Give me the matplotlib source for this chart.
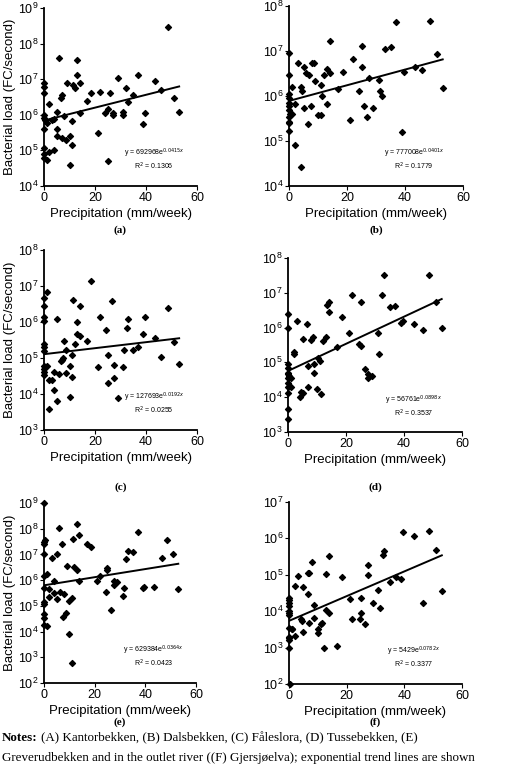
import matplotlib
matplotlib.use("Agg")
import matplotlib.pyplot as plt
import numpy as np

# precipitation (mm/week) and bacterial load (FC/second) per stream
a_x = [0, 0, 0, 0, 0, 0, 0, 0, 0, 0.5, 1, 1, 2, 2, 3, 4, 4, 5, 5, 5, 6, 6.5, 7, 7, 8, 8.5, 9, 10, 10, 11, 11,
       11.5, 12, 13, 13, 14, 14, 17, 18.5, 21, 22, 24, 25, 25, 26, 27, 27, 29, 31, 31, 32, 33, 35, 37, 39, 39.5,
       43.5, 46, 48.5, 51, 53]
a_y = [8e6, 6e6, 4e6, 1e6, 8e5, 4e5, 1.2e5, 8e4, 6e4, 7e5, 6e5, 5.5e4, 2e6, 9e4, 7e5, 7.5e5, 1e5, 1.2e6, 4e5,
       2.5e5, 4e7, 3e6, 3.5e6, 2.2e5, 9e5, 2e5, 8e6, 2.5e5, 4e4, 1.4e5, 6.5e5, 7e6, 5.5e6, 3.5e7, 1.3e7, 8e6,
       1.1e6, 2.5e6, 4e6, 3e5, 4.5e6, 1.1e6, 5e4, 1.5e6, 4e6, 1.1e6, 1e6, 1.1e7, 1e6, 1.2e6, 5.5e6, 2.3e6,
       3.5e6, 1.3e7, 5.5e5, 1.1e6, 9e6, 5e6, 3e8, 3e6, 1.2e6]
b_x = [0, 0, 0, 0, 0, 0, 0, 0, 0, 0, 0, 0.5, 1, 1, 2, 2, 3, 4, 4, 4.5, 5, 5, 6, 6.5, 7, 7.5, 8, 8.5, 9, 10,
       11, 11, 11.5, 12, 13, 13, 14, 14, 17, 18.5, 21, 22, 24, 25, 25, 26, 27, 27.5, 29, 31, 31.5, 32, 33, 35,
       37, 39, 39.5, 43.5, 46, 48.5, 51, 53]
b_y = [9e6, 3e6, 1.1e6, 9e5, 7e5, 6e5, 5e5, 3.5e5, 2.7e5, 2.5e5, 1.7e5, 4e5, 1.6e6, 4e5, 6.5e5, 8e4, 5.5e6,
       1.6e6, 2.7e4, 1.3e6, 4.5e6, 5.5e5, 3.3e6, 2.4e5, 3e6, 6e5, 5.5e6, 5.5e6, 2.2e6, 3.8e5, 1.8e6, 3.8e5,
       1e6, 3e6, 4e6, 6.5e5, 1.7e7, 3.3e6, 1.4e6, 3.5e6, 3e5, 6.5e6, 1.3e6, 1.3e7, 4.5e6, 6e5, 3.4e5, 2.5e6,
       5.5e5, 2.3e6, 1.3e6, 1e6, 1.1e7, 1.2e7, 4.5e7, 1.6e5, 3.5e6, 4.5e6, 3.7e6, 4.7e7, 8.5e6, 1.5e6]
c_x = [0, 0, 0, 0, 0, 0, 0, 0, 0, 0, 0, 0.5, 1, 1, 2, 2, 3, 4, 4, 5, 5, 6, 6.5, 7, 7.5, 8, 8.5, 8.5, 10, 10,
       11, 11, 11.5, 12, 13, 13, 14, 14, 17, 18.5, 21, 22, 24.5, 25, 25, 26.5, 27.5, 27.5, 29, 31, 31.5, 32.5,
       33, 35, 37, 39, 39.5, 43.5, 46, 48.5, 51, 53]
c_y = [4.5e6, 2.8e6, 1.4e6, 1.1e6, 2.4e5, 2e5, 1.6e5, 6e4, 5e4, 4e4, 3.3e4, 5.5e4, 7e6, 6e4, 2.5e4, 3.8e3,
       2.5e4, 1.3e4, 4e4, 1.2e6, 6.5e3, 3.5e4, 8e4, 9e4, 1e5, 3e5, 3.8e4, 1.7e5, 8e3, 6e4, 3e4, 1.2e5, 4e6,
       2.5e5, 1e6, 4.5e5, 2.8e6, 4e5, 3e5, 1.4e7, 5.5e4, 1.4e6, 6e5, 1.2e5, 2e4, 3.8e6, 2.8e4, 6.5e4, 7.5e3,
       5.5e4, 1.7e5, 7e5, 1.2e6, 1.7e5, 2e5, 4.5e5, 1.4e6, 3.5e5, 1.1e5, 2.4e6, 2.8e5, 7e4]
d_x = [0, 0, 0, 0, 0, 0, 0, 0, 0, 0, 0, 0, 0.5, 1, 1, 2, 2, 3, 4, 4.5, 5, 5, 6.5, 7, 7, 8, 8.5, 9, 9, 10,
       10.5, 11, 11.5, 12, 13, 13.5, 14, 14, 17, 18.5, 21, 22, 24.5, 25, 25, 26.5, 27.5, 27.5, 29, 31, 31.5,
       32.5, 33, 35, 37, 39, 39.5, 43.5, 46.5, 48.5, 51, 53]
d_y = [2.4e6, 1e6, 9e4, 7e4, 5e4, 4.5e4, 3.5e4, 2.5e4, 2e4, 1.3e4, 4.5e3, 2.3e3, 4e4, 3.5e4, 2e4, 2e5, 1.7e5,
       1.5e6, 1e4, 1.4e4, 4.8e5, 1.3e4, 1.3e6, 8e4, 2e4, 4.5e5, 5.5e5, 9e4, 5e4, 1.7e4, 1.3e5, 1.1e5, 1.2e4,
       4.2e5, 5.5e5, 4.5e6, 5.5e6, 2.9e6, 2.7e5, 2e6, 6.8e5, 8.5e6, 3.3e5, 5.5e6, 3e5, 6.5e4, 3.5e4, 4.5e4,
       4.2e4, 6.8e5, 1.7e5, 8.5e6, 3.2e7, 4e6, 4.3e6, 1.4e6, 1.5e6, 1.3e6, 8.5e5, 3.2e7, 5.5e6, 1e6]
e_x = [0, 0, 0, 0, 0, 0, 0, 0, 0, 0, 0, 0.5, 1, 1, 2, 2, 3, 4, 4, 5, 5, 6, 6.5, 7, 7.5, 8, 8.5, 9, 10, 10,
       11, 11, 11.5, 12, 13, 13, 14, 14, 17, 18.5, 21, 22, 24.5, 25, 25, 26.5, 27.5, 27.5, 29, 31, 31.5, 32.5,
       33, 35, 37, 39, 39.5, 43.5, 46.5, 48.5, 51, 53]
e_y = [1e9, 3e7, 2.5e7, 1e7, 1.5e6, 5e5, 1.4e5, 1.2e5, 5e4, 3.5e4, 1.8e4, 3.5e7, 1.8e6, 1.6e4, 4.5e5, 2.3e5,
       7e6, 9e5, 3.2e5, 1e7, 1.8e5, 1.1e8, 3.5e5, 2.5e7, 3.8e4, 3e5, 5.5e4, 3.5e6, 8e3, 1.5e5, 2e5, 600,
       4e7, 3.2e6, 2.5e6, 1.5e8, 5.5e7, 9e5, 2.5e7, 2e7, 9.5e5, 1.5e6, 3.5e5, 2.5e6, 3e6, 7e4, 6.5e5, 9.5e5,
       8.5e5, 2.5e5, 5e5, 6.5e6, 1.3e7, 1.2e7, 7.5e7, 5e5, 5.5e5, 5.5e5, 7e6, 3.5e7, 1e7, 4.5e5]
f_x = [0, 0, 0, 0, 0, 0, 0, 0, 0, 0, 0, 0, 0.5, 1, 1, 2, 2, 3, 4, 4.5, 5, 5, 6.5, 6.5, 7, 7, 8, 8.5, 8.5,
       10, 10, 11, 11.5, 12, 13, 13, 14, 14, 16.5, 18.5, 21, 22, 24.5, 25, 25, 26.5, 27.5, 27.5, 29, 31, 31.5,
       32.5, 33, 35, 37, 39, 39.5, 43.5, 46.5, 48.5, 51, 53]
f_y = [2.3e4, 2e4, 1.7e4, 1.4e4, 1e4, 9e3, 8e3, 3.5e3, 2e3, 1.8e3, 1.6e3, 1e3, 100, 3.3e3, 3.3e3, 5e4,
       2.1e3, 9e4, 6e3, 5.5e3, 4.5e4, 2.6e3, 1.1e5, 2.9e4, 1.1e5, 4.8e3, 2.2e5, 6.5e3, 1.5e4, 3.3e3, 2.5e3,
       4.5e3, 4.8e3, 1e3, 1.05e5, 1.1e4, 9e3, 3.2e5, 1.1e3, 8.5e4, 2.2e4, 6e3, 6e3, 2.3e4, 9e3,
       4.5e3, 1.9e5, 1e5, 1.7e4, 3.8e4, 1.2e4, 3.6e5, 4.5e5, 6.5e4, 8.5e4, 7.5e4, 1.5e6, 1.2e6, 1.7e4, 1.6e6,
       4.8e5, 3.7e4]

# fitted exponential trend  y = A e^(k x)
fit_a = [692968, 777008, 127693, 56761, 629384, 5429]
fit_k = [0.0415, 0.0401, 0.0192, 0.0898, 0.0364, 0.0782]
r2 = ["0.1306", "0.1779", "0.0255", "0.3537", "0.0423", "0.3377"]
ylims = [(4, 9), (4, 8), (3, 8), (3, 8), (2, 9), (2, 7)]
letters = ["(a)", "(b)", "(c)", "(d)", "(e)", "(f)"]

xs = [a_x, b_x, c_x, d_x, e_x, f_x]
ys = [a_y, b_y, c_y, d_y, e_y, f_y]

W, H = 520, 777
# axes boxes in pixels: left, top, right, bottom
boxes = [(44, 8, 197, 186), (289, 6, 463, 186),
         (44, 250, 197, 430), (288, 258, 462, 432),
         (44, 503, 196, 683), (289, 502, 462, 684)]
label_y = [230, 230, 487, 487, 722, 722]

plt.rcParams["font.family"] = ["Liberation Sans", "DejaVu Sans"]
fig = plt.figure(figsize=(W / 100, H / 100), dpi=100)

for i in range(6):
    l, t, r, b = boxes[i]
    ax = fig.add_axes([l / W, 1 - b / H, (r - l) / W, (b - t) / H])
    n = min(len(xs[i]), len(ys[i]))
    ax.scatter(xs[i][:n], ys[i][:n], marker="D", s=9, color="black", clip_on=False, zorder=3)
    xx = np.linspace(0, 53, 50)
    ax.plot(xx, fit_a[i] * np.exp(fit_k[i] * xx), color="black", lw=1.4)
    ax.set_yscale("log")
    lo, hi = ylims[i]
    ax.set_ylim(10.0 ** lo, 10.0 ** hi)
    ax.set_xlim(0, 60)
    ax.set_xticks([0, 20, 40, 60])
    ax.set_yticks([10.0 ** p for p in range(lo, hi + 1)])
    ax.minorticks_off()
    ax.tick_params(labelsize=9, length=3, width=0.8, pad=1)
    for s in ["top", "right"]:
        ax.spines[s].set_visible(False)
    for s in ["left", "bottom"]:
        ax.spines[s].set_linewidth(1.3)
    ax.set_xlabel("Precipitation (mm/week)", fontsize=9.5, labelpad=3)
    if i % 2 == 0:
        ax.set_ylabel("Bacterial load (FC/second)", fontsize=9.5, labelpad=1)
    ax.text(0.72, 0.17, "y = %de$^{%.4fx}$" % (fit_a[i], fit_k[i]), transform=ax.transAxes,
            fontsize=5, ha="center")
    ax.text(0.72, 0.09, "R$^2$ = %s" % r2[i], transform=ax.transAxes, fontsize=5, ha="center")
    fig.text((l + r) / 2 / W, 1 - label_y[i] / H, letters[i], ha="center", va="center", fontsize=8,
             fontweight="bold", family="Liberation Serif")

fs = 9.4
notes = fig.text(0.004, 1 - 738 / H, "Notes:", fontsize=fs, fontweight="bold",
                 family="Liberation Serif", va="center")
fig.canvas.draw()
bb = notes.get_window_extent()
fig.text(bb.x1 / W + 0.006, 1 - 738 / H,
         "(A) Kantorbekken, (B) Dalsbekken, (C) Fåleslora, (D) Tussebekken, (E)",
         fontsize=fs, family="Liberation Serif", va="center")
fig.text(0.004, 1 - 758 / H,
         "Greverudbekken and in the outlet river ((F) Gjersjøelva); exponential trend lines are shown",
         fontsize=fs, family="Liberation Serif", va="center")

fig.savefig("out.png", dpi=100)
